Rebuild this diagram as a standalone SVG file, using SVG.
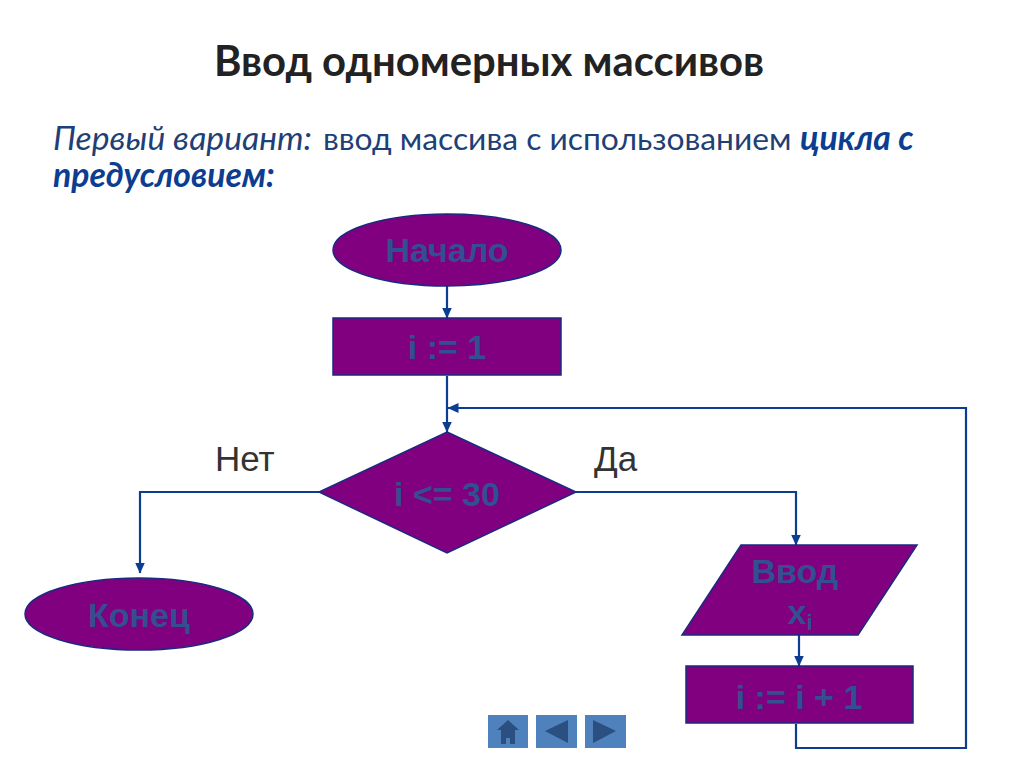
<svg xmlns="http://www.w3.org/2000/svg" width="1024" height="767" viewBox="0 0 1024 767">
<defs><marker id="a" markerWidth="11" markerHeight="11" refX="10.5" refY="5" orient="auto" markerUnits="userSpaceOnUse"><path d="M0 0L11 5L0 10z" fill="#0b3d91"/></marker></defs>
<style>
.n{fill:#800080;stroke:#1a2a80;stroke-width:1.5}
.l{font-family:"Liberation Sans",sans-serif;font-weight:bold;font-size:34px;fill:#334f8f;text-anchor:middle}
.c{fill:none;stroke:#0b3d91;stroke-width:2.2}
.h{font-family:"Liberation Sans",sans-serif;font-size:35px;fill:#333}
.b{fill:#4f81bd}
.g{fill:#2a4f80}
.i{font-style:italic;font-size:33.7px}
.e{font-weight:bold;fill:#0b3d91}
</style>
<rect width="1024" height="767" fill="#fff"/>
<text x="489" y="76" font-family="Lato,sans-serif" font-size="41.8" font-weight="bold" fill="#222" text-anchor="middle">Ввод одномерных массивов</text>
<text y="150" font-family="Lato,sans-serif" font-size="31.8" fill="#1f3f77"><tspan x="53" class="i">Первый вариант:</tspan><tspan x="323">ввод массива с использованием</tspan><tspan x="800" class="i e">цикла с</tspan></text>
<text x="53" y="187" font-family="Lato,sans-serif" class="i e">предусловием:</text>
<g id="connectors">
<path class="c" d="M447 286V318" marker-end="url(#a)"/>
<path class="c" d="M447 376V432" marker-end="url(#a)"/>
<path class="c" d="M319 492H140V573" marker-end="url(#a)"/>
<path class="c" d="M576 492H796V545" marker-end="url(#a)"/>
<path class="c" d="M799 635V666" marker-end="url(#a)"/>
<path class="c" d="M796 724V748H966V408H448" marker-end="url(#a)"/>
</g>
<g id="start"><ellipse class="n" cx="447" cy="250" rx="114" ry="36"/><text class="l" x="447" y="262">Начало</text></g>
<g id="init"><rect class="n" x="333" y="318" width="228" height="57"/><text class="l" x="447" y="359">i := 1</text></g>
<g id="cond"><path class="n" d="M447 432L576 492L447 553L319 492z"/><text class="l" x="447" y="506">i &lt;= 30</text></g>
<g id="end"><ellipse class="n" cx="139" cy="614" rx="114" ry="36"/><text class="l" x="139" y="627">Конец</text></g>
<g id="input"><path class="n" d="M741 545H917L858 635H682z"/><text class="l" x="795" y="583">Ввод</text><text class="l" x="800" y="624">x<tspan font-size="22" dy="6">i</tspan></text></g>
<g id="inc"><rect class="n" x="686" y="666" width="227" height="57"/><text class="l" x="799" y="709">i := i + 1</text></g>
<text class="h" x="215" y="471">Нет</text>
<text class="h" x="594" y="471">Да</text>
<g id="nav">
<rect class="b" x="488" y="715" width="40" height="33"/><path class="g" d="M508 720L519 730H515V744H510V738H506V744H501V730H497z"/>
<rect class="b" x="536" y="715" width="41" height="33"/><path class="g" d="M568 720V743L545 731z"/>
<rect class="b" x="585" y="715" width="41" height="33"/><path class="g" d="M593 720V743L616 731z"/>
</g>
</svg>
